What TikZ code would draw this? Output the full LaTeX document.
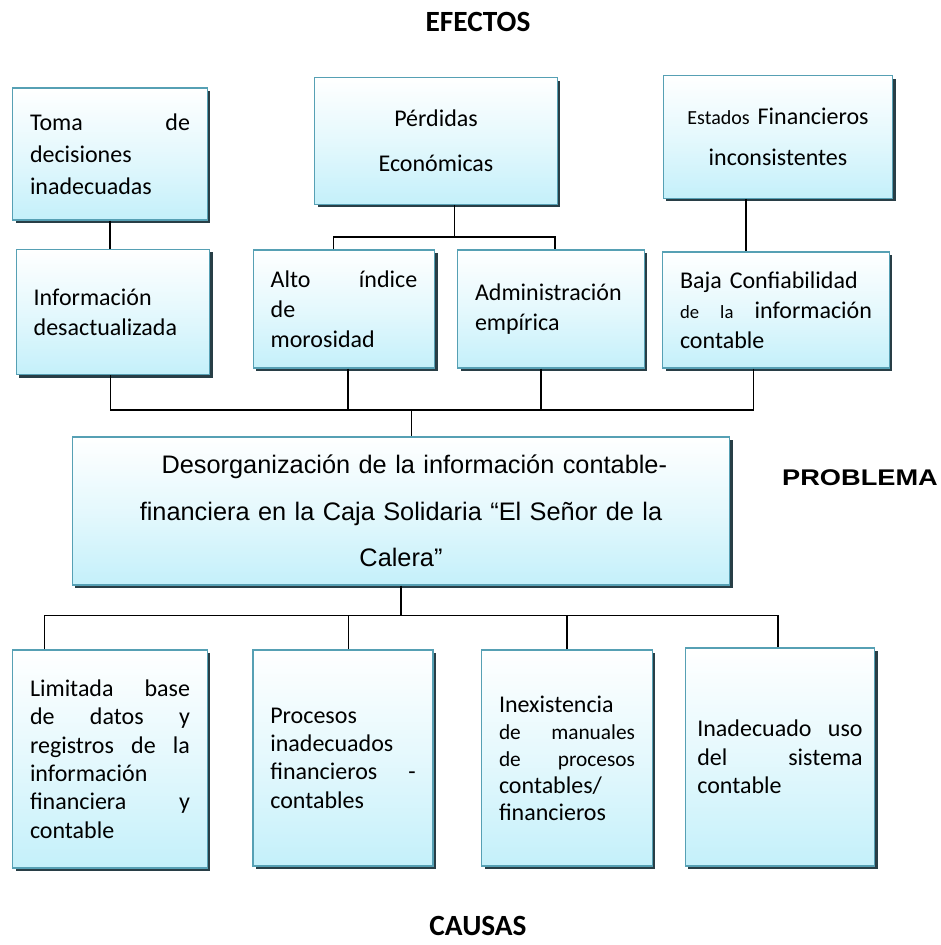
\documentclass[tikz,border=0pt]{standalone}
\usepackage{fontspec}
\setmainfont{Carlito}
\newfontfamily\arialfont{Liberation Sans}
\usetikzlibrary{calc,positioning,shadows}
\definecolor{bordecaja}{RGB}{86,160,180}
\definecolor{fondocaja}{RGB}{196,240,250}
\definecolor{sombracaja}{RGB}{40,62,70}

\begin{document}
\begin{tikzpicture}[x=0.75pt, y=-0.75pt, line width=1.2pt,
  caja/.style={rectangle, draw=bordecaja, line width=0.9pt, inner xsep=13pt, inner ysep=4pt,
    top color=white, bottom color=fondocaja, middle color=white!55!fondocaja,
    drop shadow={shadow xshift=2.2pt, shadow yshift=-2.2pt, fill=sombracaja, opacity=1},
    align=left, font=\fontsize{18}{22.5}\selectfont},
  titulo/.style={inner sep=0pt, font=\fontsize{22}{24}\selectfont\bfseries}]
\useasboundingbox (0,0) rectangle (940,945);

% efectos
\node[titulo] (efectos) at (478,22) {EFECTOS};
\node[caja, text width=120pt, minimum height=99pt, font=\fontsize{18}{24}\selectfont] (toma) at (110,154)
  {Toma \hfill de\\decisiones\\inadecuadas\\[4pt]};
\node[caja, text width=156pt, minimum height=95pt, align=center, font=\fontsize{18}{34}\selectfont] (perdidas) at (436,141)
  {Pérdidas\\Económicas\\[6pt]};
\node[caja, text width=146pt, minimum height=92pt, align=center, font=\fontsize{18}{31}\selectfont] (estados) at (778,137)
  {{\fontsize{15}{31}\selectfont Estados} Financieros\\inconsistentes\\[4pt]};

\node[caja, text width=119pt, minimum height=94pt] (info) at (113,312)
  {Información\\desactualizada};
\node[caja, text width=110pt, minimum height=88.5pt] (alto) at (344,309)
  {Alto \hfill índice\\de\\morosidad};
\node[caja, text width=114pt, minimum height=88.5pt] (admin) at (551,309)
  {Administración\\empírica};
\node[caja, text width=144pt, minimum height=87pt] (baja) at (776,310)
  {Baja Confiabilidad\\{\fontsize{14}{22}\selectfont de} \hfill {\fontsize{14}{22}\selectfont la} \hfill información\\contable};

% problema
\node[caja, text width=467pt, minimum height=111pt, align=center, font=\arialfont\fontsize{19}{35}\selectfont] (problema) at (401,511)
  {\hspace*{20pt}Desorganización de la información contable-\\financiera en la Caja Solidaria “El Señor de la\\Calera”};
\node[font=\arialfont\bfseries\fontsize{17}{20}\selectfont] (problemalbl) at (860,478) {\scalebox{1.2}[1]{PROBLEMA}};

% causas
\node[caja, text width=120pt, minimum height=163.5pt, font=\fontsize{18}{21.3}\selectfont] (limitada) at (110,759)
  {Limitada \hfill base\\de \hfill datos \hfill y\\registros \hfill de \hfill la\\información\\financiera \hfill y\\contable};
\node[caja, text width=109pt, minimum height=162pt, font=\fontsize{18}{21.3}\selectfont] (procesos) at (343,758)
  {Procesos\\inadecuados\\financieros \hfill -\\contables};
\node[caja, text width=102pt, minimum height=162pt, font=\fontsize{18}{20.3}\selectfont] (inexist) at (567,758)
  {Inexistencia\\{\fontsize{16}{20.3}\selectfont de \hfill manuales}\\{\fontsize{16}{20.3}\selectfont de \hfill procesos}\\contables/\\financieros};
\node[caja, text width=124pt, inner xsep=9pt, minimum height=163.5pt, font=\fontsize{18}{21.5}\selectfont] (inadec) at (780,757)
  {Inadecuado \hfill uso\\del \hfill sistema\\contable};
\node[titulo] (causas) at (478,926) {CAUSAS};

% conectores de efectos
\draw (toma.south) -- (toma.south |- info.north);
\draw ([xshift=14pt]perdidas.south) -- ++(0,-24pt) coordinate (bp);
\draw ([xshift=-8pt]alto.north) |- (bp) -| ([xshift=3pt]admin.north);
\draw ([xshift=-24pt]estados.south) -- ([xshift=-24pt]estados.south |- baja.north);

% conectores al problema
\path ([xshift=8pt]problema.north) ++(0,20pt) coordinate (bus1);
\draw ([xshift=-2pt]info.south) |- (bus1);
\draw ([xshift=-17pt]baja.south) |- (bus1);
\draw ([xshift=3pt]alto.south) -- ([xshift=3pt]alto.south |- bus1);
\draw ([xshift=-7.5pt]admin.south) -- ([xshift=-7.5pt]admin.south |- bus1);
\draw (bus1) -- ([xshift=8pt]problema.north);

% conectores a las causas
\path (problema.south) ++(0,-22.5pt) coordinate (bus2);
\draw (problema.south) -- (bus2);
\draw ([xshift=-49pt]limitada.north) |- (bus2) -| ([xshift=-1.5pt]inadec.north);
\draw ([xshift=4pt]procesos.north) -- ([xshift=4pt]procesos.north |- bus2);
\draw (inexist.north) -- (inexist.north |- bus2);
\end{tikzpicture}
\end{document}
